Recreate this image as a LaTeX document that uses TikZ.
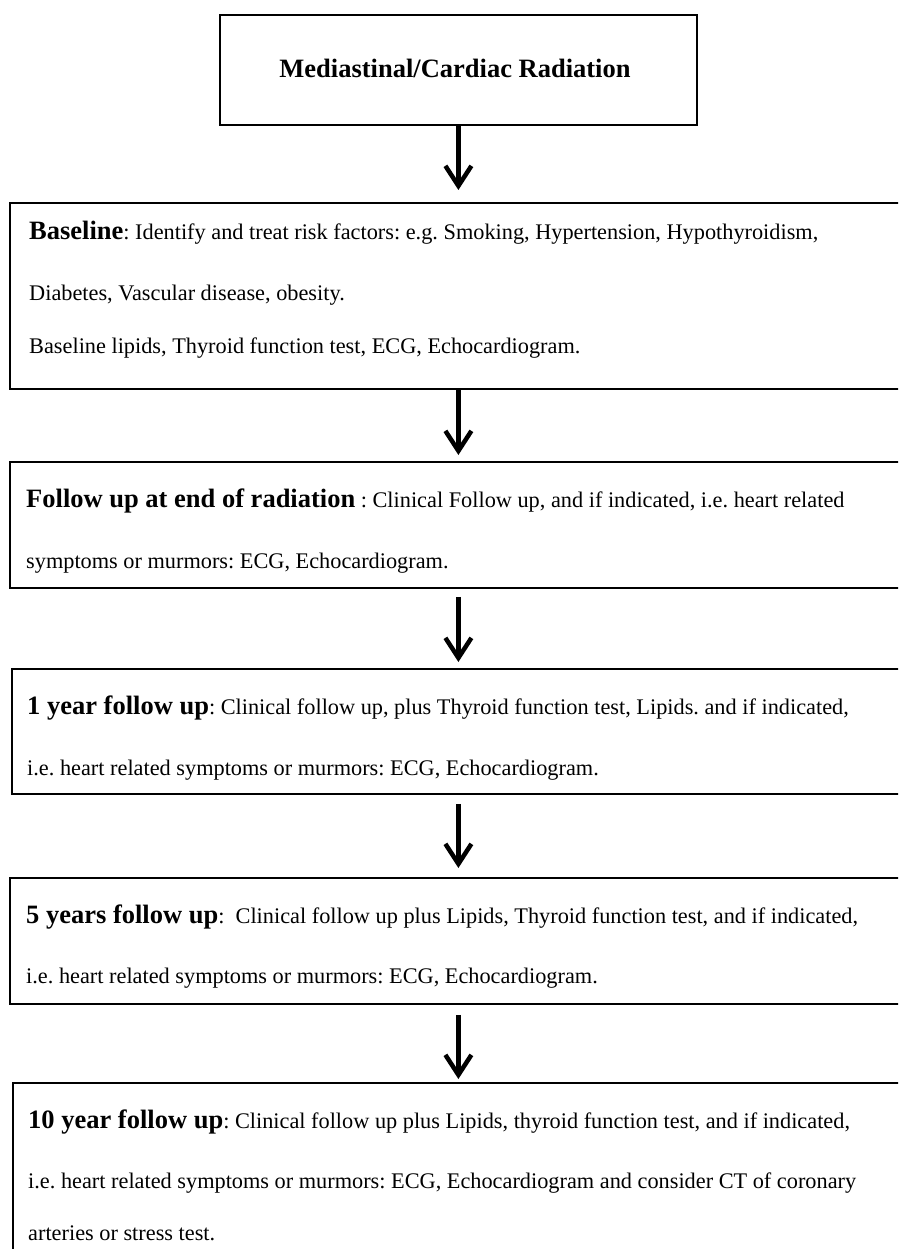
\documentclass[tikz,border=0pt]{standalone}
\usepackage{fontspec}
\setmainfont{Liberation Serif}
\usetikzlibrary{arrows.meta}
\frenchspacing

\tikzset{
    stepbox/.style={draw, line width=1.8pt, inner sep=0pt, anchor=north west},
    flowarrow/.style={line width=4.5pt, -{Straight Barb[length=20pt,width=26pt]}},
    txt/.style={anchor=base west, inner sep=0pt, font=\fontsize{22.3}{26}\selectfont},
    titletxt/.style={anchor=base, inner sep=0pt, font=\fontsize{26.5}{30}\selectfont\bfseries},
}
\newcommand{\hd}[1]{{\fontsize{26.5}{30}\selectfont\bfseries #1}}

\begin{document}
\begin{tikzpicture}[x=1pt,y=-1pt]
    \useasboundingbox (0,0) rectangle (898,1249);
    \clip (0,0) rectangle (898,1249);

    % boxes
    \node[stepbox, minimum width=477, minimum height=110] (radiation) at (219,14) {};
    \node[stepbox, minimum width=950, minimum height=186] (baseline) at (9,202) {};
    \node[stepbox, minimum width=950, minimum height=126] (endrt) at (9,461) {};
    \node[stepbox, minimum width=950, minimum height=125] (oneyear) at (11,668) {};
    \node[stepbox, minimum width=950, minimum height=126] (fiveyear) at (9,877) {};
    \node[stepbox, minimum width=950, minimum height=220] (tenyear) at (12,1082) {};

    % arrows
    \draw[flowarrow] (radiation.south) -- ([yshift=12pt]baseline.north -| radiation.south);
    \draw[flowarrow] (baseline.south -| radiation.south) -- ([yshift=6pt]endrt.north -| radiation.south);
    \draw[flowarrow] ([yshift=-8pt]endrt.south -| radiation.south) -- ([yshift=6pt]oneyear.north -| radiation.south);
    \draw[flowarrow] ([yshift=-9pt]oneyear.south -| radiation.south) -- ([yshift=9pt]fiveyear.north -| radiation.south);
    \draw[flowarrow] ([yshift=-10pt]fiveyear.south -| radiation.south) -- ([yshift=3pt]tenyear.north -| radiation.south);

    % title
    \node[titletxt] (title) at (455,78) {Mediastinal/Cardiac Radiation};

    % baseline
    \node[txt] (b1) at (29,240) {\hd{Baseline}: Identify and treat risk factors: e.g. Smoking, Hypertension, Hypothyroidism,};
    \node[txt] (b2) at (29,300) {Diabetes, Vascular disease, obesity.};
    \node[txt] (b3) at (29,353) {Baseline lipids, Thyroid function test, ECG, Echocardiogram.};

    % end of radiation
    \node[txt] (e1) at (26,507) {\hd{Follow up at end of radiation} : Clinical Follow up, and if indicated, i.e. heart related};
    \node[txt] (e2) at (26,568) {symptoms or murmors: ECG, Echocardiogram.};

    % 1 year
    \node[txt] (o1) at (27,714) {\hd{1 year follow up}: Clinical follow up, plus Thyroid function test, Lipids. and if indicated,};
    \node[txt] (o2) at (27,775) {i.e. heart related symptoms or murmors: ECG, Echocardiogram.};

    % 5 years
    \node[txt] (f1) at (26,923) {\hd{5 years follow up}:\ \ Clinical follow up plus Lipids, Thyroid function test, and if indicated,};
    \node[txt] (f2) at (26,983) {i.e. heart related symptoms or murmors: ECG, Echocardiogram.};

    % 10 years
    \node[txt] (t1) at (28,1128) {\hd{10 year follow up}: Clinical follow up plus Lipids, thyroid function test, and if indicated,};
    \node[txt] (t2) at (28,1188) {i.e. heart related symptoms or murmors: ECG, Echocardiogram and consider CT of coronary};
    \node[txt] (t3) at (28,1240) {arteries or stress test.};
\end{tikzpicture}
\end{document}
